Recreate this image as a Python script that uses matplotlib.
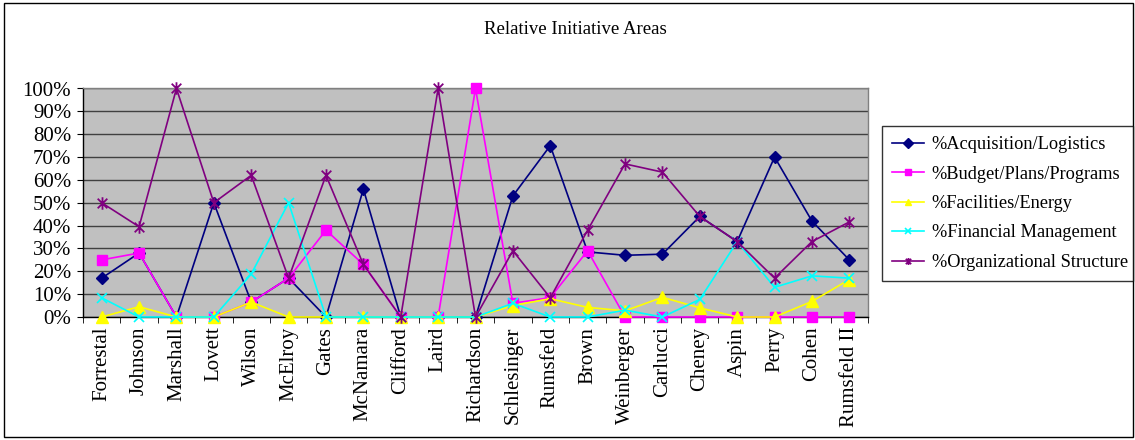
import matplotlib
matplotlib.use("Agg")
import matplotlib.pyplot as plt
from matplotlib.path import Path
from matplotlib.patches import Rectangle
import numpy as np

categories = ["Forrestal", "Johnson", "Marshall", "Lovett", "Wilson", "McElroy", "Gates",
              "McNamara", "Clifford", "Laird", "Richardson", "Schlesinger", "Rumsfeld",
              "Brown", "Weinberger", "Carlucci", "Cheney", "Aspin", "Perry", "Cohen",
              "Rumsfeld II"]

acquisition = [17, 28, 0, 50, 6.5, 17, 0, 56, 0, 0, 0, 53, 75, 28.5, 27, 27.5, 44, 33, 70, 42, 25]
budget = [25, 28, 0, 0, 6.5, 17, 38, 23, 0, 0, 100, 6, 8.5, 29, 0, 0, 0, 0, 0, 0, 0]
facilities = [0, 4.5, 0, 0, 6.5, 0, 0, 0, 0, 0, 0, 5, 8, 4.2, 2.7, 8.6, 4, 0, 0, 6.8, 16.4]
financial = [8.4, 0, 0, 0, 18.8, 50, 0, 0, 0, 0, 0, 6, 0, 0, 3, 0, 7.7, 33, 13, 18, 17]
organizational = [50, 39.5, 100, 50, 62, 17, 62, 23, 0, 100, 0, 29, 8.4, 38, 67, 63.4, 44, 33, 17, 33, 41.6]

series_names = ["%Acquisition/Logistics", "%Budget/Plans/Programs", "%Facilities/Energy",
                "%Financial Management", "%Organizational Structure"]

plt.rcParams['font.family'] = ['Liberation Serif', 'DejaVu Serif']

W, H = 1135, 440
fig = plt.figure(figsize=(W / 100, H / 100), dpi=100)

# outer border
fig.patches.append(Rectangle((4 / W, 3 / H), (1133 - 4) / W, (437 - 3) / H,
                             transform=fig.transFigure, fill=False,
                             edgecolor="black", linewidth=1.0))

ax = fig.add_axes([83 / W, (H - 317) / H, (868 - 83) / W, (317 - 88.5) / H])
ax.set_facecolor("#C0C0C0")

star = Path([(-1, -1), (1, 1), (-1, 1), (1, -1), (0, -1.3), (0, 1.3)],
            [Path.MOVETO, Path.LINETO, Path.MOVETO, Path.LINETO, Path.MOVETO, Path.LINETO])

x = np.arange(len(categories))
data = [acquisition, budget, facilities, financial, organizational]
colors = ["#000080", "#FF00FF", "#FFFF00", "#00FFFF", "#800080"]
markers = ["D", "s", "^", "x", star]
msizes = [6.5, 7, 8, 7.5, 9]
mews = [1.0, 1.0, 1.0, 1.2, 1.3]

for vals, c, m, ms, mew, name in zip(data, colors, markers, msizes, mews, series_names):
    ax.plot(x, np.array(vals) / 100.0, color=c, marker=m, markersize=ms,
            markerfacecolor=c, markeredgecolor=c, markeredgewidth=mew,
            linewidth=1.2, label=name, clip_on=False, zorder=3)

ax.set_xlim(-0.5, len(categories) - 0.5)
ax.set_ylim(0, 1.0)
yt = np.arange(0, 1.01, 0.1)
ax.set_yticks(yt)
ax.set_yticklabels([f"{int(round(v * 100))}%" for v in yt], fontsize=15)
ax.yaxis.grid(True, color="#404040", linewidth=1.0)
ax.set_axisbelow(True)

ax.set_xticks(x)
ax.set_xticklabels(categories, rotation=90, fontsize=15, va="top")
ax.set_xticks(np.arange(-0.5, len(categories)), minor=True)
ax.tick_params(axis="x", which="major", length=0, pad=7)
ax.tick_params(axis="x", which="minor", length=4.5, direction="out", color="black")
ax.tick_params(axis="y", length=4.5, direction="out", color="black", pad=4)

for s in ["left", "bottom"]:
    ax.spines[s].set_color("black")
    ax.spines[s].set_linewidth(1.0)
for s in ["top", "right"]:
    ax.spines[s].set_color("#808080")
    ax.spines[s].set_linewidth(1.0)

fig.text(575 / W, (H - 30) / H, "Relative Initiative Areas", ha="center", va="center",
         fontsize=13.5)

leg = fig.legend(loc="upper left",
                 bbox_to_anchor=(882 / W, (H - 280) / H, (1133 - 882) / W, (280 - 126) / H),
                 mode="expand", frameon=True, fancybox=False, fontsize=13.2,
                 handlelength=1.75, handletextpad=0.4, labelspacing=0.68,
                 borderpad=0.55, borderaxespad=0)
leg.get_frame().set_edgecolor("black")
leg.get_frame().set_linewidth(1.0)
for h in leg.legend_handles:
    h.set_markersize(5)

fig.savefig("out.png", dpi=100)
